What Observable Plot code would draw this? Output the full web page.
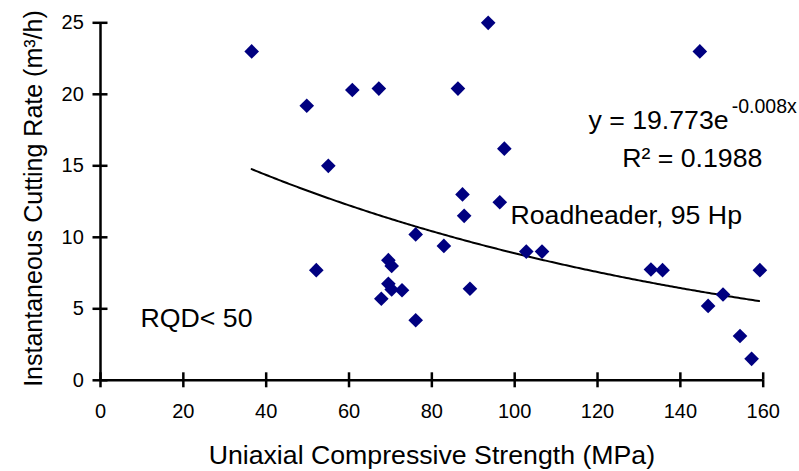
<!DOCTYPE html>
<html>
<head>
<meta charset="utf-8">
<script src="https://cdn.jsdelivr.net/npm/d3@7"></script>
<script src="https://cdn.jsdelivr.net/npm/@observablehq/plot@0.6"></script>
<style>
  html, body { margin: 0; padding: 0; background: #fff; }
</style>
</head>
<body>
<div id="chart"></div>
<script>
// ---- data ----
const ucs = [36.5, 49.8, 52.1, 55.0, 60.8, 67.2, 67.8, 69.5, 70.3, 69.5, 70.3, 72.8, 76.1, 76.1, 82.9, 86.3,
             87.4, 87.8, 89.2, 93.6, 96.4, 97.5, 102.8, 106.6, 132.9, 135.7, 144.7, 146.7, 150.3, 154.4, 157.2, 159.2];
const rate = [23.0, 19.2, 7.7, 15.0, 20.3, 20.4, 5.7, 8.4, 8.0, 6.75, 6.35, 6.3, 10.2, 4.2, 9.4, 20.4,
              13.0, 11.5, 6.4, 25.0, 12.45, 16.2, 9.0, 9.0, 7.75, 7.7, 23.0, 5.2, 6.0, 3.1, 1.5, 7.7];
const xTicks = [0, 20, 40, 60, 80, 100, 120, 140, 160];
const yTicks = [0, 5, 10, 15, 20, 25];
// exponential trendline shown in the chart: y = a * e^(b x)
const trendA = 19.773;
const trendB = -0.008;
const trendRange = [36.5, 159.3];
const xTitle = "Uniaxial Compressive Strength (MPa)";
const yTitle = "Instantaneous Cutting Rate (m³/h)";
const eqMain = "y = 19.773e";
const eqExp = "-0.008x";
const r2Label = "R² = 0.1988";
const machineLabel = "Roadheader, 95 Hp";
const rqdLabel = "RQD< 50";

const points = ucs.map((u, i) => ({ucs: u, rate: rate[i]}));
const curve = d3.range(trendRange[0], trendRange[1] + 0.001, 0.5).map(x => ({x, y: trendA * Math.exp(trendB * x)}));

const font = "Liberation Sans, Arial, Helvetica, sans-serif";

const W = 799, H = 471, mL = 100, mR = 36.3, mT = 22.3, mB = 91.2;
const xDom = [0, 160], yDom = [0, 25];

const chart = Plot.plot({
  width: W,
  height: H,
  marginLeft: mL,
  marginRight: mR,
  marginTop: mT,
  marginBottom: mB,
  x: {domain: xDom, axis: null},
  y: {domain: yDom, axis: null},
  style: {fontFamily: font, background: "white"},
  marks: [
    // outward half of the crossing ticks, with labels
    Plot.axisX({ticks: xTicks, tickSize: 7.5, tickPadding: 16, stroke: "black", strokeWidth: 2.5, fill: "black", fontSize: 20, label: null}),
    Plot.axisY({ticks: yTicks, tickSize: 7.5, tickPadding: 9.2, stroke: "black", strokeWidth: 2.5, fill: "black", fontSize: 20, label: null}),
    // inward half of the crossing ticks
    Plot.axisX({ticks: xTicks, anchor: "bottom", tickSize: 7.5, dy: -7.5, stroke: "black", strokeWidth: 2.5, fill: "none", label: null}),
    Plot.axisY({ticks: yTicks, anchor: "left", tickSize: 7.5, dx: 7.5, stroke: "black", strokeWidth: 2.5, fill: "none", label: null}),
    Plot.ruleX([0], {stroke: "black", strokeWidth: 2.5}),
    Plot.ruleY([0], {stroke: "black", strokeWidth: 2.5}),
    Plot.line(curve, {x: "x", y: "y", stroke: "black", strokeWidth: 2}),
    Plot.dot(points, {x: "ucs", y: "rate", symbol: "diamond2", r: 6.6, fill: "#000080", stroke: "none"}),
    Plot.text([xTitle], {frameAnchor: "bottom", dy: 83.2, lineAnchor: "bottom", fontSize: 26.7, fill: "black"}),
    Plot.text([yTitle], {frameAnchor: "left", textAnchor: "middle", dx: -58.3, dy: -3, rotate: -90, lineAnchor: "bottom", fontSize: 25, fill: "black"}),
    Plot.text([eqMain], {x: 117.8, y: 17.59, textAnchor: "start", lineAnchor: "bottom", fontSize: 26.7, fill: "black"}),
    Plot.text([eqExp], {x: 152.4, y: 18.68, textAnchor: "start", lineAnchor: "bottom", fontSize: 19.5, fill: "black"}),
    Plot.text([r2Label], {x: 125.95, y: 14.90, textAnchor: "start", lineAnchor: "bottom", fontSize: 26.7, fill: "black"}),
    Plot.text([machineLabel], {x: 98.99, y: 10.94, textAnchor: "start", lineAnchor: "bottom", fontSize: 26.7, fill: "black"}),
    Plot.text([rqdLabel], {x: 9.66, y: 3.76, textAnchor: "start", lineAnchor: "bottom", fontSize: 26.7, fill: "black"})
  ]
});
document.getElementById("chart").appendChild(chart);
</script>
</body>
</html>
